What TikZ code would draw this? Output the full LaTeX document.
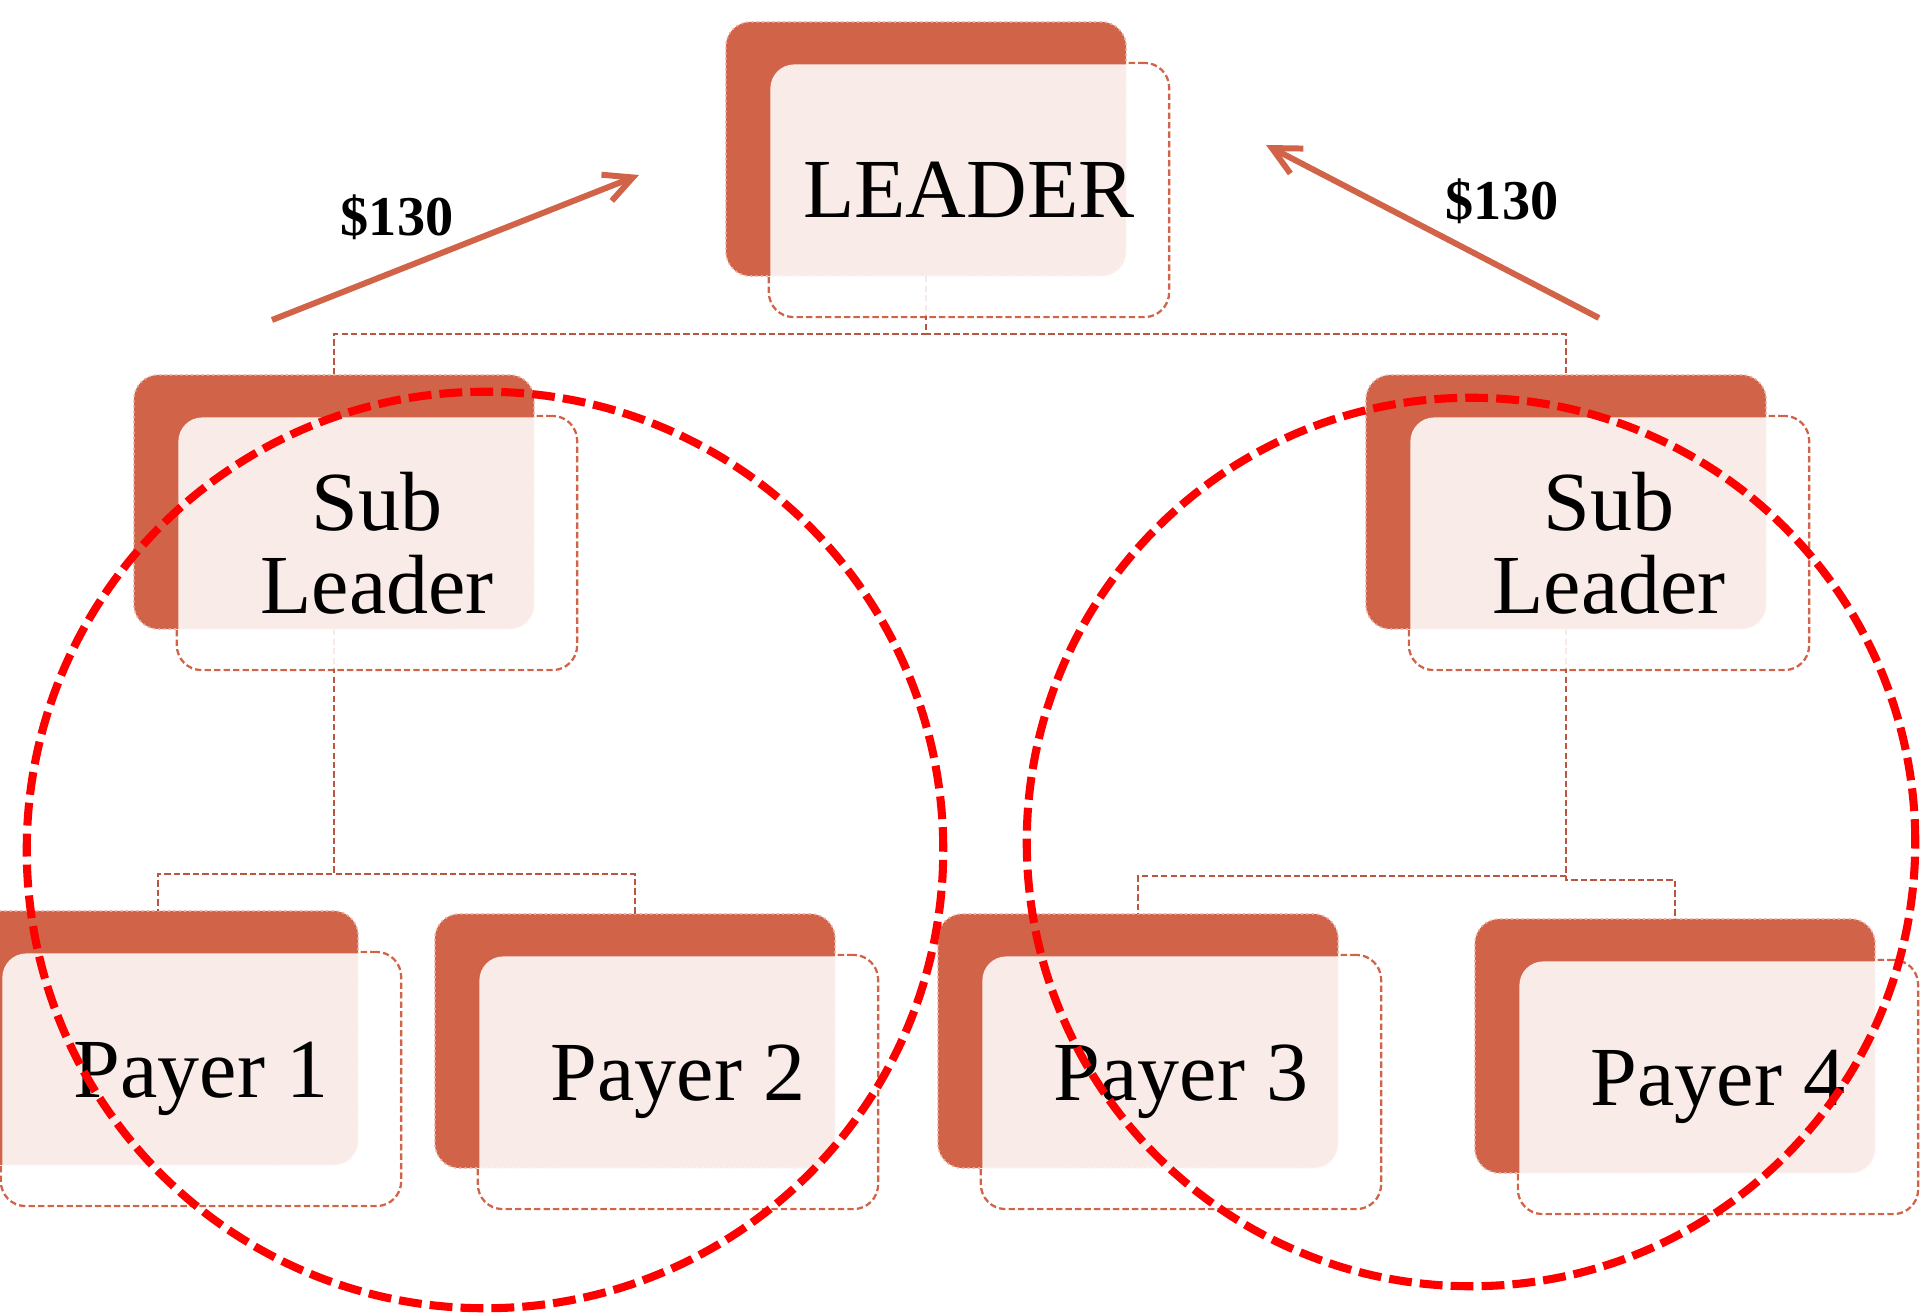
\documentclass[tikz,border=0pt]{standalone}
\usepackage{fontspec}
\setmainfont{Liberation Serif}
\usetikzlibrary{arrows.meta}
\definecolor{boxdark}{RGB}{209,99,73}
\definecolor{linkcol}{RGB}{186,86,64}

\begin{document}
\begin{tikzpicture}[x=0.01cm,y=-0.01cm,
    back/.style={rectangle,rounded corners=7pt,minimum width=4cm,minimum height=2.54cm,
                 inner sep=0pt,outer sep=0pt,fill=boxdark,draw=boxdark!50!white,
                 densely dotted,line width=.5pt},
    frame/.style={rectangle,rounded corners=7pt,minimum width=4cm,minimum height=2.54cm,
                  inner sep=0pt,outer sep=0pt,draw=boxdark,line width=.65pt,
                  dash pattern=on 1.8pt off 0.9pt},
    front/.style={rectangle,rounded corners=6.8pt,minimum width=3.97cm,minimum height=2.51cm,
                  inner sep=0pt,outer sep=0pt,fill=white,fill opacity=.88,text opacity=1,
                  align=center,font=\fontsize{23.9}{23.6}\selectfont},
    link/.style={draw=linkcol,line width=.65pt,dash pattern=on 1.8pt off 0.9pt},
    pay/.style={draw=boxdark,line width=1.7pt,-{Straight Barb[length=8pt,width=8pt]}},
    amount/.style={font=\fontsize{16}{16}\selectfont\bfseries},
    ring/.style={draw=red,line width=2.3pt,dash pattern=on 6.5pt off 2.3pt}]

  \useasboundingbox (0,0) rectangle (1920,1313);

  % dashed outlines of the front cards
  \node[frame] (0f) at (969,190) {};
  \node[frame] (1f) at (377,543) {};
  \node[frame] (2f) at (1609,543) {};
  \node[frame] (3f) at (201,1079) {};
  \node[frame] (4f) at (678,1082) {};
  \node[frame] (5f) at (1181,1082) {};
  \node[frame] (6f) at (1718,1087) {};

  % dark cards behind
  \node[back] (0) at (926,149) {};
  \node[back] (1) at (334,502) {};
  \node[back] (2) at (1566,502) {};
  \node[back] (3) at (158,1038) {};
  \node[back] (4) at (635,1041) {};
  \node[back] (5) at (1138,1041) {};
  \node[back] (6) at (1675,1046) {};

  % tree links
  \draw[link] (0.south) -- ++(0,58) -| (1.north);
  \draw[link] (0.south) -- ++(0,58) -| (2.north);
  \draw[link] (1.south) -- ++(0,245) -| (3.north);
  \draw[link] (1.south) -- ++(0,245) -| (4.north);
  \draw[link] (2.south) -- ++(0,247) -| (5.north);
  \draw[link] (2.south) -- ++(0,251) -| (6.north);

  % front cards with the names
  \node[front] (0t) at (969,190) {LEADER};
  \node[front] (1t) at (377,543) {Sub\\Leader};
  \node[front] (2t) at (1609,543) {Sub\\Leader};
  \node[front] (3t) at (201,1079) {Payer 1};
  \node[front] (4t) at (678,1082) {Payer 2};
  \node[front] (5t) at (1181,1082) {Payer 3};
  \node[front] (6t) at (1718,1087) {Payer 4};

  % money going up
  \coordinate (a1) at (272,320);
  \coordinate (b1) at (639,175);
  \coordinate (a2) at (1599,318);
  \coordinate (b2) at (1266,145);
  \draw[pay] (a1) -- (b1);
  \draw[pay] (a2) -- (b2);
  \node[amount] (m1) at (397,217) {\$130};
  \node[amount] (m2) at (1502,201) {\$130};

  % groups
  \draw[ring] (485,850) circle[radius=4.58cm];
  \draw[ring] (1471,842) circle[radius=4.44cm];
\end{tikzpicture}
\end{document}
